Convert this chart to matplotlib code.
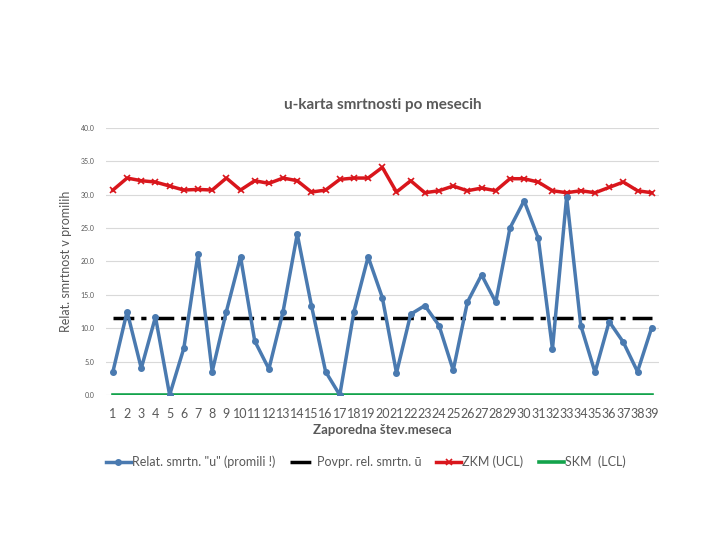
import matplotlib.pyplot as plt
import numpy as np

plt.rcParams['font.family'] = ['Lato', 'DejaVu Sans']

# Data
months = list(range(1, 40))
u_rate = [3.5, 12.5, 4.0, 11.7, 0.0, 7.0, 21.1, 3.5, 12.5, 20.7,
          8.1, 3.9, 12.5, 24.1, 13.4, 3.5, 0.0, 12.5, 20.7, 14.6,
          3.3, 12.1, 13.4, 10.4, 3.7, 13.9, 18.0, 13.9, 25.0, 29.1,
          23.5, 6.9, 29.7, 10.4, 3.4, 11.0, 7.9, 3.5, 10.1]
u_mean = [11.6] * 39
ucl = [30.7, 32.5, 32.1, 31.9, 31.3, 30.7, 30.8, 30.7, 32.5, 30.7,
       32.1, 31.7, 32.5, 32.1, 30.4, 30.7, 32.3, 32.5, 32.5, 34.1,
       30.4, 32.1, 30.3, 30.6, 31.3, 30.6, 31.0, 30.6, 32.4, 32.4,
       31.9, 30.6, 30.3, 30.6, 30.3, 31.1, 31.9, 30.6, 30.3]
lcl = [0.0] * 39

labels = ['Relat. smrtn. "u" (promili !)', 'Povpr. rel. smrtn. ū', 'ZKM (UCL)', 'SKM  (LCL)']

text_color = '#595959'

fig = plt.figure(figsize = (7.2, 5.4), dpi = 100)
ax = fig.add_axes([0.147, 0.2685, 0.768, 0.4945])

ax.plot(months, u_rate, color = '#4a7ab0', linewidth = 2.5, marker = 'o', markersize = 4, label = labels[0], zorder = 3)
ax.plot(months, u_mean, color = 'black', linewidth = 2.5, linestyle = (0, (6, 2, 1.5, 2)), label = labels[1], zorder = 2)
ax.plot(months, ucl, color = '#d9161c', linewidth = 2.5, marker = 'x', markersize = 4, markeredgewidth = 1.2, label = labels[2], zorder = 2)
ax.plot(months, lcl, color = '#13a34b', linewidth = 2.6, label = labels[3], zorder = 2)

ax.set_xlim(0.5, 39.5)
ax.set_ylim(0, 40)
ax.set_yticks(np.arange(0, 41, 5))
ax.set_yticklabels([f'{v:.1f}' for v in np.arange(0, 41, 5)], fontsize = 5, color = text_color)
ax.set_xticks(months)
ax.set_xticklabels([str(m) for m in months], fontsize = 9, color = text_color)
ax.tick_params(axis = 'y', length = 0, pad = 8)
ax.tick_params(axis = 'x', length = 0, pad = 9)

ax.grid(True, axis = 'y', color = '#d9d9d9', linewidth = 0.8)
ax.set_axisbelow(True)
for s in ax.spines.values():
    s.set_visible(False)

ax.set_title('u-karta smrtnosti po mesecih', fontsize = 11, color = text_color, fontweight = 'bold', pad = 14)
ax.set_ylabel('Relat. smrtnost v promilih', fontsize = 9, color = text_color, labelpad = 6)
ax.set_xlabel('Zaporedna štev.meseca', fontsize = 9.5, color = text_color, fontweight = 'bold', labelpad = 3)

ax.legend(loc = 'center', bbox_to_anchor = (0.47, -0.25), ncol = 4, frameon = False, fontsize = 9,
          handlelength = 2.0, handletextpad = 0.1, columnspacing = 1.2, labelcolor = text_color)

fig.savefig('out.png', dpi = 100)
